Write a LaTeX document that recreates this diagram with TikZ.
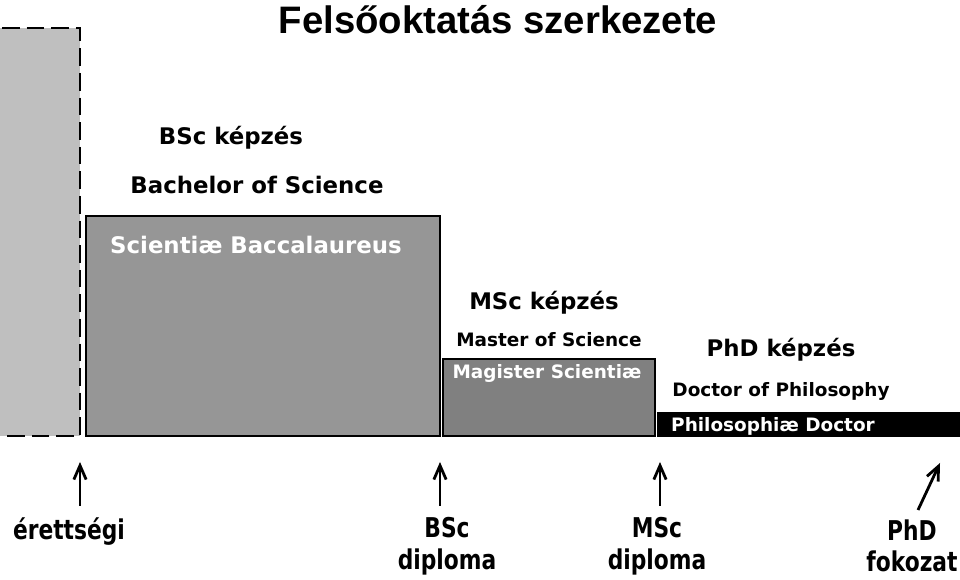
\documentclass[tikz,border=0pt]{standalone}
\usepackage{fontspec}
\setmainfont{DejaVu Sans}
\newfontfamily\titlefont{Liberation Sans}
\newfontfamily\condfont[FakeStretch=0.8]{DejaVu Sans}
\usetikzlibrary{arrows.meta,positioning,calc}
\tikzstyle{lbl} = [inner sep=0pt, font=\bfseries\fontsize{13}{15}\selectfont]
\tikzstyle{small} = [inner sep=0pt, font=\bfseries\fontsize{10.5}{13}\selectfont]
\tikzstyle{white} = [text=white]
\tikzstyle{bottom} = [inner sep=0pt, align=center,
font=\condfont\bfseries\fontsize{15.5}{18}\selectfont]
\tikzstyle{line} = [draw, -{Straight Barb[length=8pt,width=7pt]}, line width=1.6pt]
\begin{document}
\begin{tikzpicture}[x=0.02cm, y=-0.02cm]
			\useasboundingbox (0,0) rectangle (960,580);
			% Bars
			\fill [black!25] (0,28) rectangle (80,436);
			\draw [dashed, dash pattern=on 10pt off 4pt, line width=1.4pt]
			(2,28) -- (80,28) -- (80,436) -- (2,436);
			\draw [fill=black!41, line width=1.4pt] (86,216) rectangle (440,436);
			\draw [fill=black!50, line width=1.4pt] (443,359) rectangle (655,436);
			\fill [black] (657,412) rectangle (960,437);
			% Place nodes
			\node [font=\titlefont\bfseries\fontsize{21.8}{25}\selectfont] (title) at (498,20)
			{Felsőoktatás szerkezete};
			\node [lbl] (bsc) at (231,138) {BSc képzés};
			\node [lbl] (bsc-en) at (257,185) {Bachelor of Science};
			\node [lbl, white] (bsc-la) at (256,245) {Scientiæ Baccalaureus};
			\node [lbl] (msc) at (544,303) {MSc képzés};
			\node [small] (msc-en) at (549,340) {Master of Science};
			\node [small, white] (msc-la) at (547,373) {Magister Scientiæ};
			\node [lbl] (phd) at (781,350) {PhD képzés};
			\node [small] (phd-en) at (781,391) {Doctor of Philosophy};
			\node [small, white] (phd-la) at (773,426) {Philosophiæ Doctor};
			\node [bottom] (erett) at (69,532) {érettségi};
			\node [bottom] (bsc-dipl) at (447,546) {BSc\\diploma};
			\node [bottom] (msc-dipl) at (657,546) {MSc\\diploma};
			\node [bottom] (phd-dipl) at (912,546) {PhD\\fokozat};
			% Arrows
			\coordinate (erett-s) at (80,506);
			\coordinate (erett-t) at (80,462);
			\coordinate (bsc-s) at (440,506);
			\coordinate (bsc-t) at (440,462);
			\coordinate (msc-s) at (660,506);
			\coordinate (msc-t) at (660,462);
			\coordinate (phd-s) at (918,510);
			\coordinate (phd-t) at (940,463);
			\path [line] (erett-s) -- (erett-t);
			\path [line] (bsc-s) -- (bsc-t);
			\path [line] (msc-s) -- (msc-t);
			\path [line] (phd-s) -- (phd-t);
		\end{tikzpicture}
\end{document}
